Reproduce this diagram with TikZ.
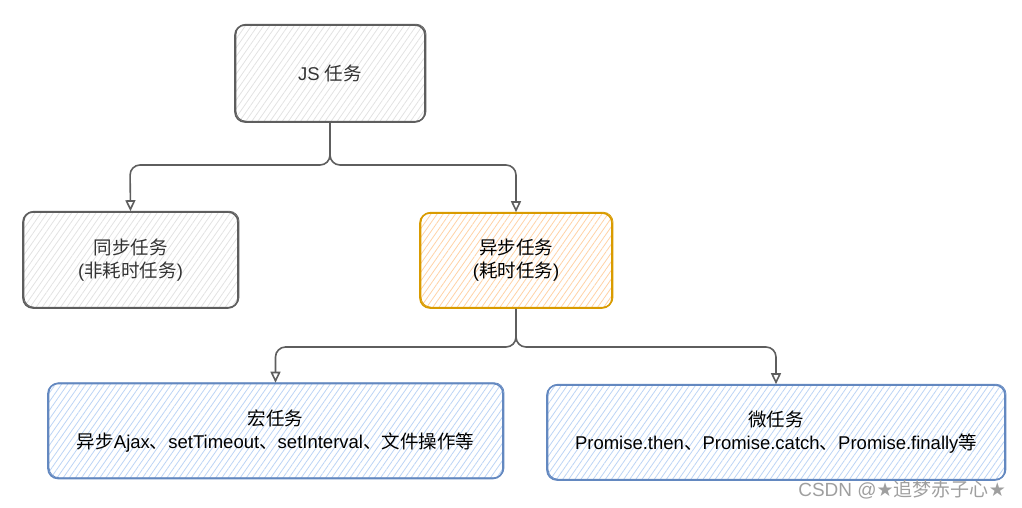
\documentclass[tikz,border=0pt]{standalone}
\usepackage{fontspec}
\setmainfont{Liberation Sans}
\newfontfamily\cjk{Noto Sans CJK SC}
\newfontfamily\sym{DejaVu Sans}
\newcommand{\zh}[1]{{\cjk #1}}
\usetikzlibrary{arrows.meta,patterns.meta}
\definecolor{grayline}{HTML}{5E5E5E}
\definecolor{grayfill}{HTML}{E2E2E2}
\definecolor{grayText}{HTML}{333333}
\definecolor{orangeline}{HTML}{D99B00}
\definecolor{orangefill}{HTML}{FFD2A6}
\definecolor{blueline}{HTML}{6388C0}
\definecolor{bluefill}{HTML}{BCD4F5}
\tikzset{
  taskbox/.style={rounded corners=10pt, line width=1.6pt, align=center,
    font=\fontsize{18.5}{23}\selectfont, inner sep=0pt,
    pattern={Lines[angle=55,distance=5pt,line width=0.8pt]},
    postaction={draw, line width=0.8pt, transform canvas={shift={(1pt,0.8pt)}}}},
  graybox/.style={taskbox, draw=grayline, pattern color=grayfill, text=grayText},
  orangebox/.style={taskbox, draw=orangeline, pattern color=orangefill},
  bluebox/.style={taskbox, draw=blueline, pattern color=bluefill},
  conn/.style={draw=grayline, line width=1.6pt, rounded corners=10pt,
    -{Triangle[open,length=11pt,width=10pt]}}
}
\begin{document}
\begin{tikzpicture}[x=1pt,y=-1pt]
  \useasboundingbox (0,0) rectangle (1022,507);

  \node [graybox, minimum width=190pt, minimum height=97pt] (js) at (330, 73.5) {JS \zh{任务}};
  \node [graybox, minimum width=215pt, minimum height=96pt] (sync) at (130.5, 260) {\zh{同步任务}\\(\zh{非耗时任务})};
  \node [orangebox, minimum width=192pt, minimum height=95pt] (async) at (516, 260.5) {\zh{异步任务}\\(\zh{耗时任务})};
  \node [bluebox, minimum width=455pt, minimum height=95pt] (macro) at (275.5, 431) {\zh{宏任务}\\\zh{异步}Ajax\zh{、}setTimeout\zh{、}setInterval\zh{、文件操作等}};
  \node [bluebox, minimum width=458pt, minimum height=95pt] (micro) at (776, 432.5) {\zh{微任务}\\Promise.then\zh{、}Promise.catch\zh{、}Promise.finally\zh{等}};

  \draw [conn] (js.south) |- (130, 165) -- (sync.north);
  \draw [conn] (js.south) |- (516, 165) -- (async.north);
  \draw [conn] (async.south) |- (275.5, 347) -- (macro.north);
  \draw [conn] (async.south) |- (776, 347) -- (micro.north);

  \node [text=gray!75, font=\fontsize{19}{22}\selectfont, anchor=east, inner sep=0pt] (watermark) at (1006, 490) {CSDN @{\sym ★}\zh{追梦赤子心}{\sym ★}};
\end{tikzpicture}
\end{document}
